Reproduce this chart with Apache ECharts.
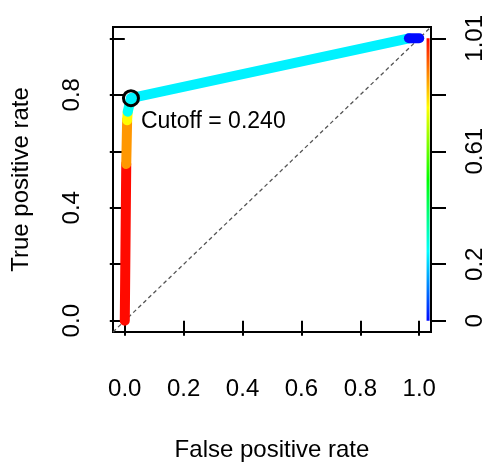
<!DOCTYPE html>
<html>
<head>
<meta charset="utf-8">
<script src="https://cdn.jsdelivr.net/npm/echarts@6/dist/echarts.min.js"></script>
<style>
html, body { margin: 0; padding: 0; background: #fff; }
#chart { width: 487px; height: 467px; }
</style>
</head>
<body>
<div id="chart"></div>
<script>
// ROC curve points (false positive rate, true positive rate)
var rocFpr = [0, 0.005, 0.008, 0.010, 0.021, 0.965, 1.0];
var rocTpr = [0, 0.555, 0.71, 0.74, 0.788, 1.0, 1.0];
// cutoff used to colour each segment between two neighbouring points
var segCutoff = [1.0, 0.86, 0.76, 0.26, 0.24, 0.01];
var rateTicks = [0, 0.2, 0.4, 0.6, 0.8, 1.0];
var rateLabels = [0, 0.4, 0.8];
var cutoffMax = 1.01;
var cutoffTicks = [0, 0.202, 0.404, 0.606, 0.808, 1.01];
var cutoffLabels = [0, 0.202, 0.606, 1.01];
var bestCut = { fpr: 0.021, tpr: 0.788, cutoff: 0.240 };
var colorbarX = 1.03;
var axisMin = -0.04, axisMax = 1.04;

var font = 'Liberation Sans';

// R rainbow palette: high cutoff red, low cutoff blue
function rainbow(c) {
  var h = (1 - c / cutoffMax) * 4;
  var i = Math.min(Math.floor(h), 4), f = h - i;
  var rgb = [[1, f, 0], [1 - f, 1, 0], [0, 1, f], [0, 1 - f, 1], [f, 0, 1]][i];
  return 'rgb(' + rgb.map(function (v) { return Math.round(v * 255); }).join(',') + ')';
}

var barStops = [];
for (var k = 0; k <= 20; k++) {
  barStops.push({ offset: k / 20, color: rainbow(cutoffMax * (1 - k / 20)) });
}

var series = [{
  type: 'line',
  data: [[axisMin, axisMin], [axisMax, axisMax]],
  symbol: 'none',
  silent: true,
  lineStyle: { color: '#555', width: 1.3, type: [4, 3] }
}, {
  type: 'line',
  yAxisIndex: 1,
  data: [[colorbarX, 0], [colorbarX, cutoffMax]],
  symbol: 'none',
  silent: true,
  lineStyle: {
    width: 3,
    color: { type: 'linear', x: 0, y: 0, x2: 0, y2: 1, colorStops: barStops }
  }
}];

for (var i = 0; i < segCutoff.length; i++) {
  series.push({
    type: 'line',
    data: [[rocFpr[i], rocTpr[i]], [rocFpr[i + 1], rocTpr[i + 1]]],
    symbol: 'none',
    silent: true,
    lineStyle: { color: rainbow(segCutoff[i]), width: 10, cap: 'round', join: 'round' }
  });
}

series.push({
  type: 'scatter',
  z: 10,
  data: [[bestCut.fpr, bestCut.tpr, bestCut.cutoff]],
  symbol: 'circle',
  symbolSize: 15,
  itemStyle: { color: 'rgba(0,0,0,0)', borderColor: '#000', borderWidth: 3, opacity: 1 },
  label: {
    show: true,
    position: [19, 21],
    align: 'left',
    verticalAlign: 'top',
    fontFamily: font,
    fontSize: 23,
    color: '#000',
    formatter: function (p) { return 'Cutoff = ' + p.value[2].toFixed(3); }
  }
});

var tickStyle = { show: true, length: 15, lineStyle: { color: '#000', width: 2 } };

var chart = echarts.init(document.getElementById('chart'));
chart.setOption({
  animation: false,
  backgroundColor: '#fff',
  grid: {
    left: 113, right: 50, top: 27, bottom: 134,
    show: true, borderColor: '#000', borderWidth: 2
  },
  xAxis: {
    type: 'value',
    min: axisMin, max: axisMax,
    name: 'False positive rate',
    nameLocation: 'middle',
    nameGap: 106,
    nameTextStyle: { fontFamily: font, fontSize: 24, color: '#000' },
    axisLine: { show: false },
    splitLine: { show: false },
    axisTick: Object.assign({ customValues: rateTicks }, tickStyle),
    axisLabel: {
      customValues: rateTicks,
      margin: 45,
      fontFamily: font, fontSize: 24, color: '#000',
      formatter: function (v) { return v.toFixed(1); }
    }
  },
  yAxis: [{
    type: 'value',
    min: axisMin, max: axisMax,
    name: 'True positive rate',
    nameLocation: 'middle',
    nameGap: 80,
    nameTextStyle: { fontFamily: font, fontSize: 24, color: '#000' },
    axisLine: { show: false },
    splitLine: { show: false },
    axisTick: Object.assign({ customValues: rateTicks }, tickStyle),
    axisLabel: {
      customValues: rateLabels,
      rotate: 90,
      margin: 29,
      fontFamily: font, fontSize: 24, color: '#000',
      formatter: function (v) { return v.toFixed(1); }
    }
  }, {
    type: 'value',
    position: 'right',
    min: cutoffMax * axisMin, max: cutoffMax * axisMax,
    axisLine: { show: false },
    splitLine: { show: false },
    axisTick: Object.assign({ customValues: cutoffTicks }, tickStyle),
    axisLabel: {
      customValues: cutoffLabels,
      rotate: 90,
      margin: 32,
      fontFamily: font, fontSize: 24, color: '#000',
      formatter: function (v) { return String(+v.toFixed(2)); }
    }
  }],
  series: series
});
</script>
</body>
</html>
